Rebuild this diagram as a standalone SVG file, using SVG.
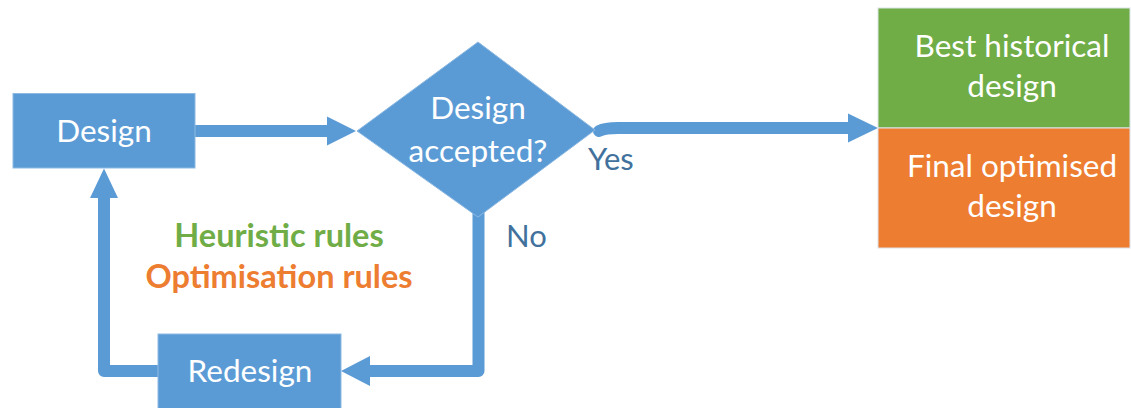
<svg xmlns="http://www.w3.org/2000/svg" width="1131" height="408" viewBox="0 0 1131 408">
  <style>
    .node { fill: #5B9BD5; stroke: #8DB9E3; stroke-width: 1; }
    .label { font-family: Lato, "Liberation Sans", sans-serif; font-size: 31.5px; fill: #FFFFFF; text-anchor: middle; }
    .answer { font-family: Lato, "Liberation Sans", sans-serif; font-size: 31px; fill: #41719C; }
    .rule { font-family: Lato, "Liberation Sans", sans-serif; font-size: 32.5px; font-weight: bold; text-anchor: middle; }
    .wire { fill: none; stroke: #5B9BD5; stroke-width: 12; stroke-linejoin: round; }
    .head { fill: #5B9BD5; }
  </style>

  <!-- connectors -->
  <g id="connectors">
    <!-- Design -> decision -->
    <line class="wire" x1="195" y1="131" x2="330" y2="131"/>
    <polygon class="head" points="327,116.5 356,131 327,145.5"/>
    <!-- decision -> outcome (Yes) -->
    <path class="wire" d="M 599 131 Q 605 128 618 128 L 851 128" stroke-linecap="round"/>
    <polygon class="head" points="848,113.5 878,128 848,142.5"/>
    <!-- decision -> Redesign (No) -->
    <path class="wire" d="M 478.5 210 L 478.5 371 L 368 371"/>
    <polygon class="head" points="370,356 341,371 370,386"/>
    <!-- Redesign -> Design -->
    <path class="wire" d="M 158 371 L 104 371 L 104 195"/>
    <polygon class="head" points="90,198 104,168.5 118,198"/>
  </g>

  <g id="design">
    <rect class="node" x="13" y="93.5" width="182" height="74.5"/>
    <text class="label" x="104" y="142">Design</text>
  </g>

  <g id="decision">
    <polygon class="node" points="357,131 478,42 595,130 478,217"/>
    <text class="label" x="478" y="119">Design</text>
    <text class="label" x="478" y="162">accepted?</text>
  </g>

  <g id="answers">
    <text class="answer" x="588" y="170">Yes</text>
    <text class="answer" x="506" y="247">No</text>
  </g>

  <g id="rules">
    <text class="rule" x="279" y="247" fill="#70AD47">Heuristic rules</text>
    <text class="rule" x="279" y="288" fill="#ED7D31">Optimisation rules</text>
  </g>

  <g id="redesign">
    <rect class="node" x="158" y="334" width="183" height="80"/>
    <text class="label" x="250" y="382">Redesign</text>
  </g>

  <g id="best-historical">
    <rect x="878" y="8" width="252" height="120" fill="#70AD47" stroke="#DDE3EA" stroke-width="1"/>
    <text class="label" x="1012" y="57">Best historical</text>
    <text class="label" x="1012" y="97">design</text>
  </g>

  <g id="final-optimised">
    <rect x="878" y="128" width="252" height="120" fill="#ED7D31" stroke="#DDE3EA" stroke-width="1"/>
    <text class="label" x="1012" y="177">Final optimised</text>
    <text class="label" x="1012" y="217">design</text>
  </g>
</svg>
